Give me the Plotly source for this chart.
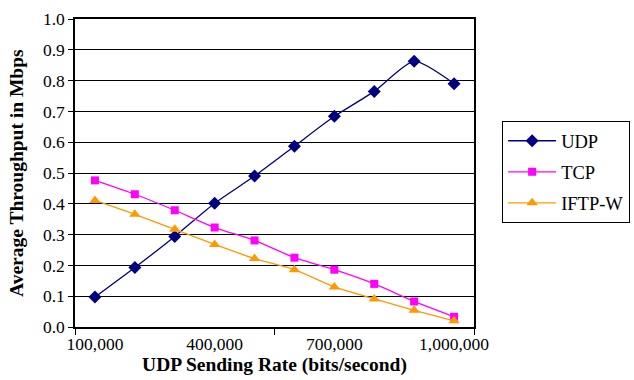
import plotly.graph_objects as go

rates = [100000, 200000, 300000, 400000, 500000, 600000, 700000, 800000, 900000, 1000000]
udp = [0.097, 0.193, 0.294, 0.402, 0.490, 0.587, 0.684, 0.765, 0.863, 0.790]
tcp = [0.476, 0.431, 0.379, 0.323, 0.281, 0.225, 0.186, 0.140, 0.083, 0.033]
iftp = [0.411, 0.366, 0.317, 0.268, 0.222, 0.186, 0.130, 0.091, 0.054, 0.020]
x_tick_vals = [100000, 400000, 700000, 1000000]
x_tick_text = ["100,000", "400,000", "700,000", "1,000,000"]
x_boundary_ticks = [50000, 550000, 1050000]
y_ticks = [0.0, 0.1, 0.2, 0.3, 0.4, 0.5, 0.6, 0.7, 0.8, 0.9, 1.0]

FONT = "Liberation Serif, Times New Roman, serif"

fig = go.Figure()
fig.add_trace(go.Scatter(x=rates, y=udp, name="UDP", mode="lines+markers", legendgroup="udp",
                         line=dict(color="#000080", width=1.3, shape="spline", smoothing=0.6),
                         marker=dict(symbol="diamond", size=10, color="#000080")))
fig.add_trace(go.Scatter(x=rates, y=tcp, name="TCP", mode="lines+markers", legendgroup="tcp",
                         line=dict(color="#FF00FF", width=1.3, shape="spline", smoothing=0.6),
                         marker=dict(symbol="square", size=8, color="#FF00FF")))
fig.add_trace(go.Scatter(x=rates, y=iftp, name="IFTP-W", mode="lines+markers", legendgroup="iftp",
                         line=dict(color="#FF9900", width=1.3, shape="spline", smoothing=0.6),
                         marker=dict(symbol="triangle-up", size=10, color="#FF9900")))

fig.update_layout(
    width=634, height=380,
    margin=dict(l=75, r=160, t=19, b=53, autoexpand=False),
    paper_bgcolor="white", plot_bgcolor="white",
    font=dict(family=FONT, size=17.5, color="black"),
    showlegend=True,
    legend=dict(xref="container", yref="container", x=0.792, y=0.681,
                xanchor="left", yanchor="top",
                bordercolor="black", borderwidth=1, bgcolor="white",
                font=dict(family=FONT, size=18.5, color="black"),
                itemwidth=48, tracegroupgap=4),
    annotations=[dict(text="<b>Average Throughput in Mbps</b>", textangle=-90,
                      xref="paper", yref="paper", x=-0.148, y=0.5,
                      xanchor="center", yanchor="middle", showarrow=False,
                      font=dict(family=FONT, size=19.5, color="black"))],
)
fig.update_xaxes(
    range=[50000, 1050000], tickmode="array", tickvals=x_tick_vals, ticktext=x_tick_text,
    ticks="outside", ticklen=0, showgrid=False, zeroline=False,
    showline=True, linecolor="black", linewidth=1.5, mirror=True,
    minor=dict(tickmode="array", tickvals=x_boundary_ticks, ticks="outside", ticklen=6,
               tickcolor="black", showgrid=False),
    title=dict(text="<b>UDP Sending Rate (bits/second)</b>", font=dict(family=FONT, size=19.5), standoff=4),
    tickfont=dict(family=FONT, size=17.5),
    automargin=False,
)
fig.update_yaxes(
    range=[0, 1.0], tickmode="array", tickvals=y_ticks, ticktext=[f"{v:.1f}" for v in y_ticks],
    ticks="outside", ticklen=5, tickcolor="black",
    showgrid=True, gridcolor="black", gridwidth=1, zeroline=False,
    showline=True, linecolor="black", linewidth=1.5, mirror=True,
    tickfont=dict(family=FONT, size=17.5),
    automargin=False,
)

fig.write_html("out.html")
